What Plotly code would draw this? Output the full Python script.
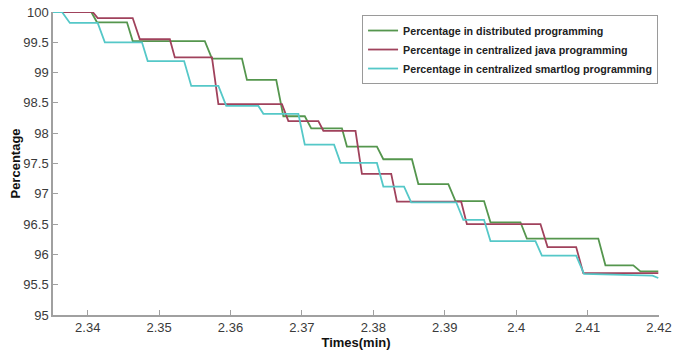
import plotly.graph_objects as go

# Distributed programming (green)
dist_t = [2.3351, 2.3405, 2.3413, 2.3455, 2.3463, 2.3564, 2.3574, 2.3616, 2.3623, 2.3664,
          2.3674, 2.3704, 2.3713, 2.3756, 2.3763, 2.3805, 2.3814, 2.3854, 2.3863, 2.3905,
          2.3915, 2.3955, 2.3964, 2.4006, 2.4015, 2.4115, 2.4125, 2.4164, 2.4174, 2.4199]
dist_v = [100, 100, 99.83, 99.83, 99.52, 99.52, 99.23, 99.23, 98.88, 98.88,
          98.28, 98.28, 98.08, 98.08, 97.78, 97.78, 97.57, 97.57, 97.16, 97.16,
          96.88, 96.88, 96.53, 96.53, 96.26, 96.26, 95.82, 95.82, 95.72, 95.72]

# Centralized java programming (purple)
java_t = [2.3351, 2.3407, 2.3414, 2.3463, 2.3473, 2.3515, 2.3522, 2.3574, 2.3583, 2.3672,
          2.3681, 2.3723, 2.3730, 2.3775, 2.3784, 2.3825, 2.3833, 2.3923, 2.3931, 2.4034,
          2.4044, 2.4084, 2.4094, 2.4199]
java_v = [100, 100, 99.90, 99.90, 99.55, 99.55, 99.25, 99.25, 98.48, 98.48,
          98.20, 98.20, 98.04, 98.04, 97.33, 97.33, 96.87, 96.87, 96.50, 96.50,
          96.12, 96.12, 95.69, 95.69]

# Centralized smartlog programming (cyan)
smart_t = [2.3351, 2.3364, 2.3375, 2.3414, 2.3424, 2.3476, 2.3484, 2.3535, 2.3545, 2.3583,
           2.3594, 2.3639, 2.3646, 2.3695, 2.3704, 2.3745, 2.3754, 2.3805, 2.3814, 2.3843,
           2.3853, 2.3916, 2.3926, 2.3955, 2.3964, 2.4027, 2.4036, 2.4084, 2.4095, 2.4163,
           2.4191, 2.4199]
smart_v = [100, 100, 99.82, 99.82, 99.50, 99.50, 99.19, 99.19, 98.78, 98.78,
           98.45, 98.45, 98.32, 98.32, 97.81, 97.81, 97.51, 97.51, 97.12, 97.12,
           96.86, 96.86, 96.57, 96.57, 96.22, 96.22, 95.98, 95.98, 95.68, 95.65,
           95.65, 95.61]

x_ticks = [2.34, 2.35, 2.36, 2.37, 2.38, 2.39, 2.40, 2.41, 2.42]
x_tick_labels = ["2.34", "2.35", "2.36", "2.37", "2.38", "2.39", "2.4", "2.41", "2.42"]
y_ticks = [95, 95.5, 96, 96.5, 97, 97.5, 98, 98.5, 99, 99.5, 100]
y_tick_labels = ["95", "95.5", "96", "96.5", "97", "97.5", "98", "98.5", "99", "99.5", "100"]

FONT = "Liberation Sans, Arial, sans-serif"

fig = go.Figure()
fig.add_trace(go.Scatter(x=dist_t, y=dist_v, mode="lines",
                         name="<b>Percentage in distributed programming</b>",
                         line=dict(color="#55964e", width=1.8)))
fig.add_trace(go.Scatter(x=java_t, y=java_v, mode="lines",
                         name="<b>Percentage in centralized java programming</b>",
                         line=dict(color="#a0425c", width=1.8)))
fig.add_trace(go.Scatter(x=smart_t, y=smart_v, mode="lines",
                         name="<b>Percentage in centralized smartlog programming</b>",
                         line=dict(color="#55c8c8", width=1.8)))

axis_font = dict(family=FONT, size=13, color="#3a3a3a")
fig.update_layout(
    width=673, height=353,
    margin=dict(l=53, r=14, t=12, b=38),
    paper_bgcolor="white", plot_bgcolor="white",
    showlegend=True,
    legend=dict(x=0.51, y=0.99, xanchor="left", yanchor="top",
                bgcolor="white", bordercolor="#9a9a9a", borderwidth=1,
                font=dict(family=FONT, size=10.7, color="#222"),
                tracegroupgap=0, itemwidth=30),
    xaxis=dict(range=[2.33514, 2.42], tickvals=x_ticks, ticktext=x_tick_labels,
               automargin=False,
               showgrid=False, zeroline=False, showline=True, linecolor="#a0a0a0", linewidth=1.5,
               ticks="inside", ticklen=5, tickcolor="#a0a0a0", tickfont=axis_font,
               title=dict(text="<b>Times(min)</b>", font=dict(family=FONT, size=13, color="#111"), standoff=0)),
    yaxis=dict(range=[95, 100], tickvals=y_ticks, ticktext=y_tick_labels,
               automargin=False,
               showgrid=False, zeroline=False, showline=True, linecolor="#a0a0a0", linewidth=1.5,
               ticks="inside", ticklen=5, tickcolor="#a0a0a0", tickfont=axis_font,
               title=dict(text="<b>Percentage</b>", font=dict(family=FONT, size=13, color="#111"), standoff=0)),
)
fig.write_html("out.html", config={"displayModeBar": False},
               post_script="document.body.style.margin='0';document.body.style.overflow='hidden';")
